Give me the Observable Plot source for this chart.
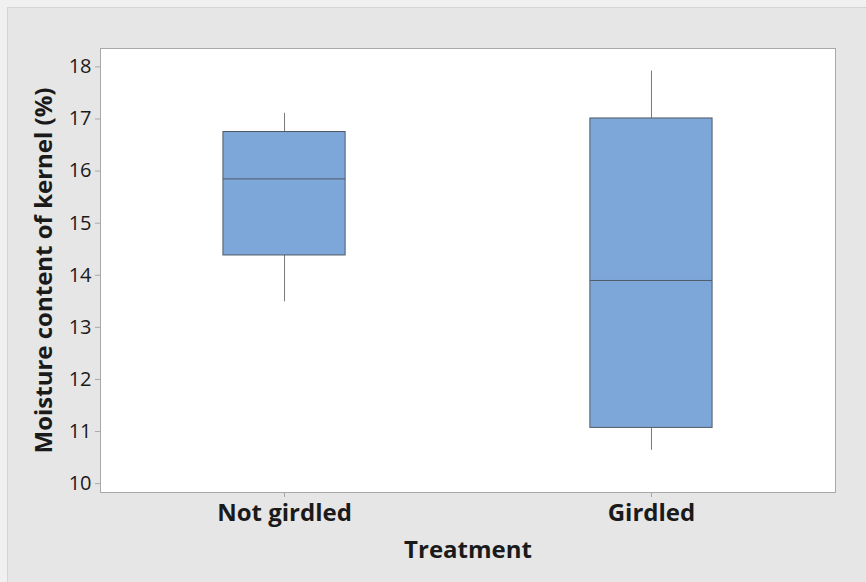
<!DOCTYPE html>
<html>
<head>
<meta charset="utf-8">
<script src="https://cdn.jsdelivr.net/npm/d3@7"></script>
<script src="https://cdn.jsdelivr.net/npm/@observablehq/plot@0.6"></script>
<style>
  html, body { margin: 0; padding: 0; background: #f0f0f0; }
  #wrap { position: relative; width: 866px; height: 582px; overflow: hidden; }
  #panel { position: absolute; left: 7px; top: 7px; width: 859px; height: 575px; background: #e6e6e6; border-left: 1px solid #d4d4d4; border-top: 1px solid #d4d4d4; box-sizing: border-box; }
  #chart { position: absolute; left: 0; top: 0; }
</style>
</head>
<body>
<div id="wrap"><div id="panel"></div><div id="chart"></div></div>
<script>
const categories = ["Not girdled", "Girdled"];
const whiskerLow = [13.49, 10.64];
const q1 = [14.38, 11.07];
const median = [15.85, 13.90];
const q3 = [16.75, 17.01];
const whiskerHigh = [17.11, 17.92];
const yTicks = [10, 11, 12, 13, 14, 15, 16, 17, 18];

const rows = categories.map((c, i) => ({
  cat: c, lo: whiskerLow[i], q1: q1[i], med: median[i], q3: q3[i], hi: whiskerHigh[i]
}));

const font = "'Open Sans', 'Noto Sans', sans-serif";

const plot = Plot.plot({
  width: 866,
  height: 582,
  marginLeft: 100,
  marginTop: 48,
  marginRight: 31,
  marginBottom: 90,
  style: { background: "transparent", fontFamily: font, color: "#1a1a1a" },
  x: { type: "band", domain: categories, paddingInner: 0.667, paddingOuter: 0.335, round: false, label: null },
  y: { domain: [9.83, 18.353], label: null },
  marks: [
    Plot.frame({ fill: "white", stroke: "#a8a8a8" }),
    Plot.ruleX(rows, { x: "cat", y1: "lo", y2: "q1", stroke: "#7a7a7a", strokeWidth: 1 }),
    Plot.ruleX(rows, { x: "cat", y1: "q3", y2: "hi", stroke: "#7a7a7a", strokeWidth: 1 }),
    Plot.barY(rows, { x: "cat", y1: "q1", y2: "q3", fill: "#7ea7d9", stroke: "#505a66", strokeWidth: 1 }),
    Plot.tickY(rows, { x: "cat", y: "med", stroke: "#505a66", strokeWidth: 1 }),
    Plot.axisY({
      ticks: yTicks, tickSize: 5, tickPadding: 4, stroke: "#a8a8a8",
      fontSize: 20, fill: "#1a1a1a",
      label: "Moisture content of kernel (%)", labelAnchor: "center", labelArrow: "none", labelOffset: 66
    }),
    Plot.axisX({
      tickSize: 5, tickPadding: 6, stroke: "#a8a8a8",
      fontSize: 24, fontWeight: "bold", fill: "#1a1a1a",
      label: "Treatment", labelAnchor: "center", labelArrow: "none", labelOffset: 65
    })
  ]
});
document.getElementById("chart").appendChild(plot);

d3.select(plot).selectAll("g[aria-label='y-axis label'] text, g[aria-label='x-axis label'] text")
  .attr("font-size", 24).attr("font-weight", "bold");
</script>
</body>
</html>
